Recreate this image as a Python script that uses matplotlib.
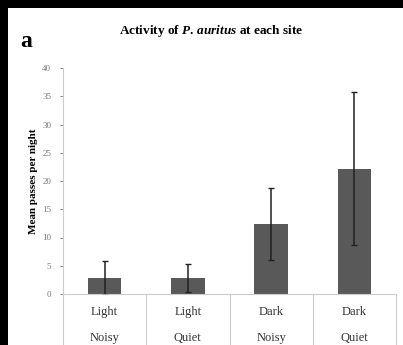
import matplotlib
matplotlib.use("Agg")
import matplotlib.pyplot as plt
from matplotlib.patches import Rectangle

# data
light = ["Light", "Light", "Dark", "Dark"]
noise = ["Noisy", "Quiet", "Noisy", "Quiet"]
mean_passes = [2.8, 2.8, 12.4, 22.2]
err = [3.0, 2.5, 6.3, 13.5]

plt.rcParams['font.family'] = ['Liberation Serif', 'DejaVu Serif']
plt.rcParams['mathtext.fontset'] = 'custom'
plt.rcParams['mathtext.it'] = 'Liberation Serif:italic:bold'
plt.rcParams['mathtext.rm'] = 'Liberation Serif:bold'

fig = plt.figure(figsize=(4.03, 3.45), dpi=100)
fig.patch.set_facecolor('black')
# white panel inside the black frame
fig.patches.append(Rectangle((8 / 403, 0), 1 - 8 / 403, 337 / 345,
                             transform=fig.transFigure, facecolor='white',
                             edgecolor='none', zorder=-5))

ax = fig.add_axes([63 / 403, 51 / 345, 333 / 403, 226 / 345])
ax.set_facecolor('none')
ax.set_zorder(2)

x = list(range(len(mean_passes)))
ax.bar(x, mean_passes, width=0.4, color='#595959', zorder=2)
ax.errorbar(x, mean_passes, yerr=err, fmt='none', ecolor='#222222',
            elinewidth=1.1, capsize=2, capthick=1, zorder=3)

ax.set_xlim(-0.5, 3.5)
ax.set_ylim(0, 40)
ax.set_yticks(range(0, 41, 5))
ax.tick_params(axis='y', labelsize=6.5, colors='#777777', length=2.5,
               width=0.6, pad=6)
ax.set_xticks([])
for s in ['top', 'right']:
    ax.spines[s].set_visible(False)
ax.spines['left'].set_color('#cccccc')
ax.spines['bottom'].set_color('#cccccc')
ax.spines['left'].set_linewidth(0.8)
ax.spines['bottom'].set_linewidth(0.8)

# table-like category axis
tr = ax.get_xaxis_transform()
for b in [-0.5, 0.5, 1.5, 2.5, 3.5]:
    ax.plot([b, b], [0, -0.25], transform=tr, color='#cccccc', lw=0.8,
            clip_on=False)
for i in x:
    ax.text(i, -0.08, light[i], transform=tr, ha='center', va='center',
            fontsize=9, color='#333333')
    ax.text(i, -0.195, noise[i], transform=tr, ha='center', va='center',
            fontsize=9, color='#333333')

ax.set_ylabel("Mean passes per night", fontsize=8, fontweight='bold',
              labelpad=3)

fig.text(0.525, 0.91, r"Activity of $\it{P.\,auritus}$ at each site",
         ha='center', va='center', fontsize=9.5, fontweight='bold')
fig.text(0.05, 0.88, "a", ha='left', va='center', fontsize=17,
         fontweight='bold')

fig.savefig("out.png", dpi=100, facecolor=fig.get_facecolor())
